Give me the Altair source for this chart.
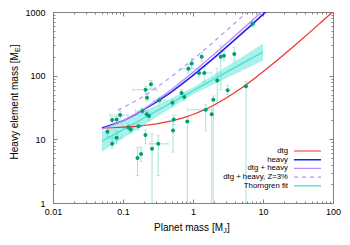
import altair as alt
import pandas as pd

mass = [0.060, 0.081, 0.070, 0.070, 0.081, 0.091, 0.119, 0.129, 0.166, 0.189,
        0.218, 0.235, 0.21, 0.251, 0.22, 0.33, 0.209, 0.161, 0.181, 0.26,
        0.319, 0.518, 0.53, 0.51, 0.686, 0.751, 0.857, 0.957, 1.22, 1.45,
        1.33, 2.49, 2.77, 3.89, 2.22, 3.13, 5.71, 7.13, 1.95, 1.85,
        1.52, 0.83]
mz = [13.1, 10.6, 8.5, 20.2, 20.4, 24.1, 15.5, 14.3, 16.0, 27.8,
      24.7, 23.2, 60, 73, 45, 41, 11.7, 5.1, 5.9, 7.1,
      8.5, 13.8, 20.5, 37.4, 53.5, 46.4, 128, 155, 110, 110,
      199, 199, 206, 219, 84, 59, 68, 653, 42, 24.7,
      29.1, 19]
mz_lo = [11, 8.5, 7.2, 18, 18, 21, 14, 12.5, 14, 25,
         22, 20, 52, 63, 40, 37, 8.5, 2.7, 4.5, 0.5,
         2.7, 6.3, 17, 33, 47, 41, 110, 130, 95, 80,
         170, 60, 175, 170, 40, 50, 0.5, 580, 0.5, 0.5,
         13.6, 0.5]
mz_hi = [15.3, 13.5, 10.5, 22.5, 23, 28, 17.5, 16, 18, 31,
         28, 26, 68, 84, 50, 46, 14, 7.4, 7.5, 12.2,
         11.4, 19.4, 24, 42, 61, 52, 150, 185, 125, 140,
         230, 300, 240, 280, 130, 70, 80, 730, 48, 30,
         35, 22]
mass_lo = [None, 0.07, None, None, None, 0.065, 0.1, None, 0.145, 0.15,
           None, None, 0.139, None, None, 0.27, None, None, None, None,
           0.24, None, None, None, None, None, 0.65, None, 0.96, None,
           None, None, None, None, None, None, None, 6.6, None, None,
           0.83, None]
mass_hi = [None, 0.095, None, None, None, 0.118, 0.14, None, 0.19, 0.22,
           None, None, 0.306, None, None, 0.4, None, None, None, None,
           0.44, None, None, None, None, None, 1.3, None, 1.85, None,
           None, None, None, None, None, None, None, 7.7, None, None,
           1.87, None]

# ---------------- model curves ----------------
dtg_mass = [0.05, 0.07, 0.1, 0.15, 0.2, 0.3, 0.5, 0.7, 1, 1.5, 2, 3, 5, 7, 10,
            15, 20, 30, 50, 70, 100]
dtg = [15.0, 15.2, 15.5, 16.0, 16.5, 17.5, 19.5, 21.5, 24.5, 29.5, 34.5, 44.5,
       64.5, 84.5, 115, 165, 215, 315, 515, 715, 1015]

heavy_mass = [0.05, 0.07, 0.1, 0.15, 0.2, 0.3, 0.5, 0.7, 1, 1.5, 2, 3, 5, 7, 10, 12]
heavy = [15.0, 17.0, 19.5, 24.5, 29.5, 38.5, 56, 74, 101, 146, 190, 280, 460,
         640, 920, 1100]
dtg_heavy = [14.5, 16.6, 19.7, 24.9, 30.1, 40.5, 61.3, 82, 113, 165, 217, 321,
             529, 737, 1049, 1250]

z3_mass = [0.085, 0.1, 0.15, 0.2, 0.3, 0.5, 0.7, 1, 1.5, 2, 3, 5, 7]
dtg_heavy_z3 = [29, 31.5, 40, 48, 65, 98, 131, 180, 262, 345, 510, 840, 1170]

thorn_mass = [0.05, 0.1, 0.2, 0.5, 1, 2, 5, 10]
thorn = [9.3, 14.2, 21.7, 37.9, 57.9, 88.4, 154.5, 235.9]
thorn_lo = [6.4, 10.4, 16.8, 31.5, 50.9, 73.5, 119.4, 172]
thorn_hi = [13.2, 19.2, 27.7, 45.0, 64.9, 104.7, 197, 318]

legend_names = ["dtg", "heavy", "dtg + heavy", "dtg + heavy, Z=3%", "Thorngren fit"]
x_ticks = [round(m * 10 ** e, 6) for e in range(-2, 2) for m in range(1, 10)] + [100]
y_ticks = [round(m * 10 ** e, 6) for e in range(0, 3) for m in range(1, 10)] + [1000]

# ---------------- styling ----------------
FONT = "Liberation Sans"
RED, BLUE, LILAC, TURQ = "#f03030", "#2020ee", "#bf8cff", "#40e0d0"
PT, EB = "#009e73", "#a6e3d6"
FRAME = "#808080"
W, H = 280, 191

legend_colors = [RED, BLUE, LILAC, LILAC, TURQ]
legend_dash = [[1, 0], [1, 0], [1, 0], [4, 4], [1, 0]]
legend_width = [1.2, 1.6, 1.4, 1.2, 1.2]

xs = alt.Scale(type="log", domain=[0.01, 100], nice=False)
ys = alt.Scale(type="log", domain=[1, 1000], nice=False)

MAJOR = "abs(log(datum.value)/LN10 - round(log(datum.value)/LN10)) < 0.001"
minor_dash = {"condition": {"test": f"!({MAJOR})", "value": [0, 2, 2, 0]}, "value": [4, 0]}


def axis(orient, labels=True, pad=4):
    return alt.Axis(orient=orient, values=x_ticks if orient in ("bottom", "top") else y_ticks,
                    labelExpr=f"{MAJOR} ? datum.value + '' : ''", labels=labels,
                    offset=-4, tickSize=4, tickDash=minor_dash, tickColor=FRAME,
                    domain=False, grid=False, title=None, labelOverlap=False,
                    labelFlush=False, labelFont=FONT, labelFontSize=9,
                    labelColor="black", labelPadding=pad)


pts = pd.DataFrame(dict(mass=mass, mz=mz, mz_lo=mz_lo, mz_hi=mz_hi,
                        mass_lo=mass_lo, mass_hi=mass_hi))
base = alt.Chart(pts)

ey = base.mark_rule(color=EB, strokeWidth=1, clip=True).encode(
    x=alt.X("mass:Q", scale=xs, axis=None), y=alt.Y("mz_lo:Q", scale=ys, axis=None), y2="mz_hi:Q")
ey_lo = base.mark_tick(orient="horizontal", size=4, thickness=1, color=EB, clip=True).encode(
    x=alt.X("mass:Q", scale=xs, axis=None), y=alt.Y("mz_lo:Q", scale=ys, axis=None))
ey_hi = base.mark_tick(orient="horizontal", size=4, thickness=1, color=EB, clip=True).encode(
    x=alt.X("mass:Q", scale=xs, axis=None), y=alt.Y("mz_hi:Q", scale=ys, axis=None))
xb = base.transform_filter("isValid(datum.mass_lo)")
ex = xb.mark_rule(color=EB, strokeWidth=1, clip=True).encode(
    x=alt.X("mass_lo:Q", scale=xs, axis=None), x2="mass_hi:Q", y=alt.Y("mz:Q", scale=ys, axis=None))
ex_lo = xb.mark_tick(orient="vertical", size=4, thickness=1, color=EB, clip=True).encode(
    x=alt.X("mass_lo:Q", scale=xs, axis=None), y=alt.Y("mz:Q", scale=ys, axis=None))
ex_hi = xb.mark_tick(orient="vertical", size=4, thickness=1, color=EB, clip=True).encode(
    x=alt.X("mass_hi:Q", scale=xs, axis=None), y=alt.Y("mz:Q", scale=ys, axis=None))

tdf = pd.DataFrame(dict(mass=thorn_mass, mz=thorn, lo=thorn_lo, hi=thorn_hi))
band = alt.Chart(tdf).mark_area(color=TURQ, opacity=0.45, clip=True).encode(
    x=alt.X("mass:Q", scale=xs, axis=None), y=alt.Y("lo:Q", scale=ys, axis=None), y2="hi:Q")
tline = alt.Chart(tdf).mark_line(color=TURQ, strokeWidth=1.2, clip=True).encode(
    x=alt.X("mass:Q", scale=xs, axis=None), y=alt.Y("mz:Q", scale=ys, axis=None))


def curve(m, v, color, width, dash=None, axes=False):
    kw = dict(color=color, strokeWidth=width, clip=True)
    if dash:
        kw["strokeDash"] = dash
    xa = axis("top", labels=False) if axes else None
    ya = axis("right", labels=False) if axes else None
    return alt.Chart(pd.DataFrame(dict(mass=m, mz=v))).mark_line(**kw).encode(
        x=alt.X("mass:Q", scale=xs, axis=xa), y=alt.Y("mz:Q", scale=ys, axis=ya))


c_dtg = curve(dtg_mass, dtg, RED, 1.2, axes=True)
c_heavy = curve(heavy_mass, heavy, BLUE, 1.6)
c_dh = curve(heavy_mass, dtg_heavy, LILAC, 1.4)
c_dhz = curve(z3_mass, dtg_heavy_z3, LILAC, 1.2, dash=[4, 4])

points = base.mark_circle(size=16, color=PT, opacity=1, clip=True).encode(
    x=alt.X("mass:Q", scale=xs, axis=axis("bottom", pad=4)),
    y=alt.Y("mz:Q", scale=ys, axis=axis("left", pad=8)))

# ---------------- legend (inside, bottom right) ----------------
legend_layers = []
for i, name in enumerate(legend_names):
    yy = 139.0 + i * 8.7
    d = alt.Chart(pd.DataFrame({"t": [name]}))
    legend_layers.append(d.mark_text(align="right", baseline="middle", font=FONT,
                                     fontSize=7.8, color="black").encode(
        x=alt.value(235), y=alt.value(yy), text="t:N"))
    legend_layers.append(d.mark_rule(color=legend_colors[i], strokeWidth=legend_width[i],
                                     strokeDash=legend_dash[i]).encode(
        x=alt.value(241), x2=alt.value(268), y=alt.value(yy)))

# ---------------- axis titles with subscripts ----------------
def txt(s, x, y, size=10, align="left", angle=None):
    kw = dict(align=align, baseline="alphabetic", font=FONT, fontSize=size, color="black")
    if angle is not None:
        kw["angle"] = angle
    return alt.Chart(pd.DataFrame({"t": [s]})).mark_text(**kw).encode(
        x=alt.value(x), y=alt.value(y), text="t:N")


titles = [
    txt("Planet mass [M", 170, 218.5, align="right"),
    txt("J", 170.3, 220.8, size=7),
    txt("]", 174.0, 218.5),
    txt("Heavy element mass [M", -35.5, 40.2, align="right", angle=270),
    txt("E", -33.0, 39.9, size=7, angle=270),
    txt("]", -35.5, 35.2, angle=270),
]

chart = alt.layer(
    ey, ey_lo, ey_hi, ex, ex_lo, ex_hi, band, tline,
    c_dtg, c_heavy, c_dh, c_dhz, points, *legend_layers, *titles
).resolve_axis(x="independent", y="independent").properties(
    width=W, height=H, autosize="none",
    padding={"left": 45, "top": 4, "right": 9, "bottom": 31},
).configure_view(stroke=FRAME, strokeWidth=1)

chart.save("out.html", embed_options={"renderer": "svg", "actions": False})
